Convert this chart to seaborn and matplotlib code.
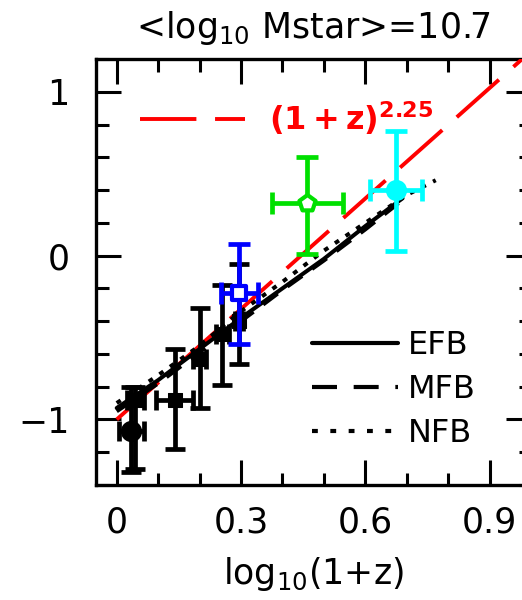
import numpy as np
import pandas as pd
import matplotlib
matplotlib.use("Agg")
import matplotlib.pyplot as plt
from matplotlib.lines import Line2D
import seaborn as sns

# ---------------- data ----------------
# black data points
blk_x = [0.035, 0.045, 0.14, 0.20, 0.255, 0.296]
blk_y = [-1.07, -0.88, -0.88, -0.63, -0.48, -0.40]
blk_ylo = [0.25, 0.42, 0.30, 0.30, 0.31, 0.26]
blk_yhi = [0.27, 0.08, 0.31, 0.31, 0.30, 0.35]
blk_xerr = [0.03, 0.02, 0.045, 0.015, 0.015, 0.01]
blk_mark = ["o", "s", "s", "s", "s", "s"]

# coloured data points
col_x = [0.296, 0.46, 0.675]
col_y = [-0.23, 0.32, 0.40]
col_ylo = [0.31, 0.31, 0.37]
col_yhi = [0.30, 0.28, 0.36]
col_xerr = [0.044, 0.085, 0.063]
col_color = ["#0000ff", "#00e000", "#00ffff"]
col_mark = ["s", "p", "o"]
col_fill = ["white", "white", "#00ffff"]

# model lines
efb_x = [0.0, 0.1, 0.2, 0.3, 0.4, 0.5, 0.6, 0.69]
efb_y = [-0.93, -0.76, -0.57, -0.38, -0.20, -0.02, 0.18, 0.35]
mfb_x = [0.0, 0.1, 0.2, 0.3, 0.4, 0.5, 0.6, 0.68]
mfb_y = [-0.95, -0.78, -0.59, -0.40, -0.21, -0.03, 0.16, 0.32]
nfb_x = [0.0, 0.1, 0.2, 0.3, 0.4, 0.5, 0.6, 0.7, 0.77]
nfb_y = [-0.90, -0.73, -0.55, -0.34, -0.16, 0.03, 0.20, 0.37, 0.46]

# (1+z)^2.25 relation
red_x = [0.0, 1.05]
red_y = [-1.0, 1.36]

xticks = [0, 0.3, 0.6, 0.9]
xticklabels = ["0", "0.3", "0.6", "0.9"]
yticks = [-1, 0, 1]
yticklabels = ["\u22121", "0", "1"]

# ---------------- figure ----------------
sns.set_theme(style="white")
plt.rcParams["font.family"] = ["DejaVu Sans"]
plt.rcParams["mathtext.fontset"] = "dejavusans"
for k in ["text.color", "axes.labelcolor", "xtick.color", "ytick.color",
          "axes.edgecolor"]:
    plt.rcParams[k] = "black"

fig = plt.figure(figsize=(5.22, 6.0), dpi=100)
ax = fig.add_axes([96 / 522, 1 - 485 / 600, 435 / 522, 426 / 600])

lw_line = 2.9
sns.lineplot(x=red_x, y=red_y, ax=ax, color="red", lw=2.8, zorder=3)
ax.lines[-1].set_dashes([14.5, 5])
sns.lineplot(x=efb_x, y=efb_y, ax=ax, color="black", lw=lw_line, zorder=4)
sns.lineplot(x=mfb_x, y=mfb_y, ax=ax, color="black", lw=lw_line, zorder=4)
ax.lines[-1].set_dashes([4.5, 3])
sns.lineplot(x=nfb_x, y=nfb_y, ax=ax, color="black", lw=lw_line, zorder=4)
ax.lines[-1].set_dashes([1.2, 2.0])

# black points
ax.errorbar(blk_x, blk_y, yerr=[blk_ylo, blk_yhi], xerr=blk_xerr, fmt="none",
            ecolor="black", elinewidth=3.4, capsize=7, capthick=3.4, zorder=5)
dfb = pd.DataFrame({"x": blk_x, "y": blk_y, "m": blk_mark})
for m, sub in dfb.groupby("m"):
    sns.scatterplot(data=sub, x="x", y="y", ax=ax, marker=m, color="black",
                    s=200 if m == "o" else 90, edgecolor="black", zorder=6)

# coloured points
for i in range(len(col_x)):
    ax.errorbar([col_x[i]], [col_y[i]], yerr=[[col_ylo[i]], [col_yhi[i]]],
                xerr=[col_xerr[i]], fmt="none", ecolor=col_color[i],
                elinewidth=3.4, capsize=8, capthick=3.4, zorder=7)
    sns.scatterplot(x=[col_x[i]], y=[col_y[i]], ax=ax, marker=col_mark[i],
                    s=110 if col_mark[i] == "s" else 150,
                    facecolor=col_fill[i], edgecolor=col_color[i],
                    linewidth=3, zorder=8)

ax.set_xlim(-0.05, 1.0)
ax.set_ylim(-1.4, 1.2)
ax.set_xticks(xticks)
ax.set_xticklabels(xticklabels)
ax.set_yticks(yticks)
ax.set_yticklabels(yticklabels)
ax.set_xticks(np.arange(-0.0, 1.0, 0.1), minor=True)
ax.set_yticks(np.arange(-1.4, 1.21, 0.2), minor=True)
ax.tick_params(which="both", direction="in", top=True, right=True,
               bottom=True, left=True, width=2.2, color="black")
ax.tick_params(which="major", length=18, labelsize=25)
ax.tick_params(which="minor", length=9)
ax.tick_params(axis="y", which="major", pad=19)
ax.tick_params(axis="x", which="major", pad=15)
for s in ax.spines.values():
    s.set_linewidth(2.4)
    s.set_color("black")
    s.set_visible(True)

ax.set_xlabel(r"log$_{10}$(1+z)", fontsize=25, labelpad=11)
ax.set_ylabel("")
ax.set_title(r"<log$_{10}$ Mstar>=10.7", fontsize=25, pad=15)

# legends
h_red = Line2D([], [], color="red", lw=2.8, dashes=[14.5, 4.8])
leg1 = ax.legend([h_red], [r"$\mathbf{(1+z)^{2.25}}$"], loc="upper left",
                 bbox_to_anchor=(0.10, 0.905), frameon=False, fontsize=23,
                 handlelength=3.3, handletextpad=0.75, labelcolor="red",
                 borderpad=0, borderaxespad=0)
ax.add_artist(leg1)

h_e = Line2D([], [], color="black", lw=3)
h_m = Line2D([], [], color="black", lw=3, dashes=[6, 4])
h_n = Line2D([], [], color="black", lw=3, dashes=[1.4, 3])
ax.legend([h_e, h_m, h_n], ["EFB", "MFB", "NFB"], loc="lower left",
          bbox_to_anchor=(0.497, 0.085), frameon=False, fontsize=23,
          handlelength=2.7, handletextpad=0.3, labelspacing=0.4,
          borderpad=0, borderaxespad=0)

fig.savefig("out.png", dpi=100)
